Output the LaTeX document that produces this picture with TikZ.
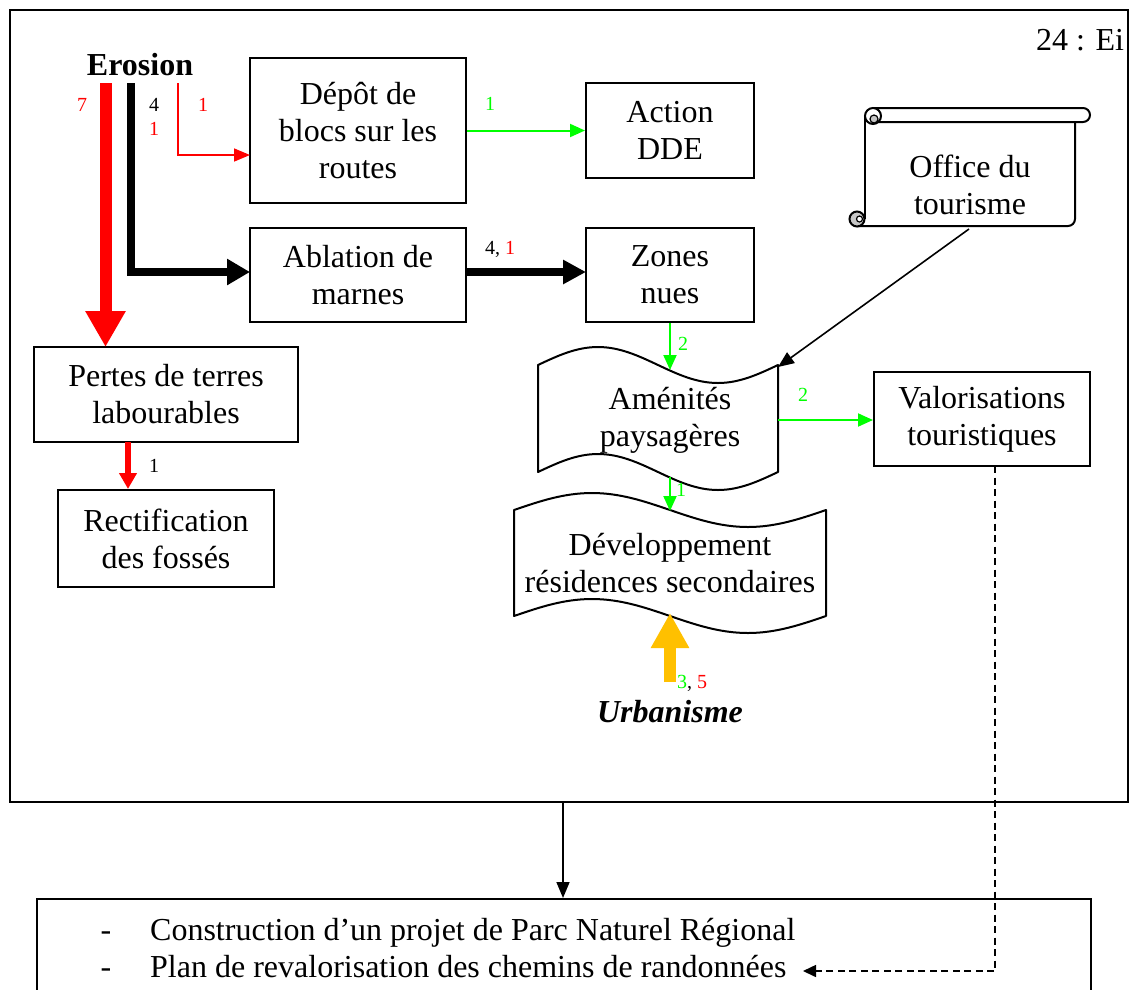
\documentclass[tikz,border=0pt]{standalone}
\usepackage{fontspec}
\setmainfont{Liberation Serif}
\usetikzlibrary{arrows.meta,calc}
\newcommand\mainsz{\fontsize{32}{37}\selectfont}
\newcommand\labsz{\fontsize{20}{24}\selectfont}
\definecolor{rd}{RGB}{255,0,0}
\definecolor{gr}{RGB}{0,255,0}
\definecolor{yl}{RGB}{255,192,0}
\begin{document}
\begin{tikzpicture}[x=1pt,y=-1pt,
  box/.style={draw,line width=2pt,inner sep=0pt,align=center,font=\mainsz},
  txt/.style={inner sep=0pt,align=center,font=\mainsz},
  lab/.style={inner sep=0pt,font=\labsz},
  waveline/.style={draw,line width=2pt,line join=round},
  garr/.style={draw=gr,line width=2pt,-{Triangle[length=15pt,width=13pt]}},
  thinarr/.style={draw,line width=1.6pt,-{Triangle[length=16pt,width=13pt]}},
]
\useasboundingbox (0,0) rectangle (1130,989);
\clip (0,0) rectangle (1130,989);

% outer frame
\draw[line width=2.5pt] (10,10) rectangle (1128,802);
\node[inner sep=0pt,font=\mainsz,anchor=base] (tag) at (1080,50) {24 : Ei};

% nodes
\node[inner sep=0pt,font=\mainsz\bfseries,anchor=base] (erosion) at (140,75) {Erosion};
\node[box,minimum width=216,minimum height=145] (depot) at (358,130.5) {Dépôt de\\blocs sur les\\routes};
\node[box,minimum width=168,minimum height=95] (dde) at (670,130.5) {Action\\DDE};
\node[box,minimum width=216,minimum height=94] (ablation) at (358,275) {Ablation de\\marnes};
\node[box,minimum width=168,minimum height=94] (zones) at (670,275) {Zones\\nues};
\node[box,minimum width=264,minimum height=95] (pertes) at (166,394.5) {Pertes de terres\\labourables};
\node[box,minimum width=216,minimum height=97] (rectif) at (166,538.5) {Rectification\\des fossés};
\node[box,minimum width=216,minimum height=94] (valor) at (982,419) {Valorisations\\touristiques};

% scroll: Office du tourisme
\draw[line width=2pt] (865,116) -- (865,219);
\draw[line width=2pt,rounded corners=7] (857,226) -- (1075,226) -- (1075,122);
\draw[line width=2pt,rounded corners=7] (873,108) -- (1090,108) -- (1090,122) -- (873,122);
\draw[line width=2pt,fill=white] (873,116) circle (8);
\draw[line width=1.2pt,fill=gray!45] (874,119) circle (4);
\draw[line width=2pt,fill=gray!45] (857,219) circle (7.5);
\draw[line width=1.2pt,fill=white] (859.5,219) circle (3);
\node[txt] (office) at (970,185) {Office du\\tourisme};

% wave: Amenites
\draw[waveline] (538,365) sin (598,347) cos (658,365) sin (718,383) cos (778,365)
  -- (778,472) sin (718,490) cos (658,472) sin (598,454) cos (538,472) -- cycle;
\node[txt] (amen) at (670,420) {Aménités\\paysagères};
% wave: Developpement
\draw[waveline] (514,510) sin (592,493) cos (670,510) sin (748,527) cos (826,510)
  -- (826,616) sin (748,633) cos (670,616) sin (592,599) cos (514,616) -- cycle;
\node[txt] (devel) at (670,563) {Développement\\résidences secondaires};

\node[inner sep=0pt,font=\mainsz\bfseries\itshape,anchor=base] (urba) at (670,722) {Urbanisme};

% bottom box
\node[draw,line width=2pt,minimum width=1054,minimum height=120,anchor=north west,inner sep=0pt] (plan) at (36,898) {};
\node[inner sep=0pt,font=\mainsz,anchor=base] (d1) at (106,940) {-};
\node[inner sep=0pt,font=\mainsz,anchor=base] (d2) at (106,977) {-};
\node[inner sep=0pt,font=\mainsz,anchor=base west] (l1) at (150,940) {Construction d’un projet de Parc Naturel Régional};
\node[inner sep=0pt,font=\mainsz,anchor=base west] (l2) at (150,977) {Plan de revalorisation des chemins de randonnées};

% coordinates
\coordinate (eR) at (105.5,83);
\coordinate (eB) at (131,83);
\coordinate (eT) at (178,83);
\coordinate (pertesTop) at (105.5,347);
\coordinate (depIn) at (250,155);
\coordinate (ablIn) at (250,272);
\coordinate (zonIn) at (586,272);
\coordinate (ablOut) at (466,272);
\coordinate (amTop) at (670,370);
\coordinate (amBot) at (670,477);
\coordinate (amRight) at (778,420);
\coordinate (amCorner) at (778,367);
\coordinate (devTop) at (670,511);
\coordinate (devBot) at (670,613);
\coordinate (urbTop) at (670,682);
\coordinate (offOut) at (969,229);
\coordinate (frameBot) at (563,802);
\coordinate (valOut) at (995,466);
\coordinate (planIn) at (803,971);
\coordinate (pertOut) at (128,442);

% connectors
\draw[draw=rd,line width=12pt,-{Triangle[length=36pt,width=38pt]}] (eR) -- (pertesTop);
\draw[line width=8pt,line join=miter,-{Triangle[length=23pt,width=25pt]}] (eB) |- (ablIn);
\draw[draw=rd,line width=1.6pt,-{Triangle[length=16pt,width=13pt]}] (eT) |- (depIn);
\draw[garr] (depot.east) -- (dde.west);
\draw[line width=8pt,-{Triangle[length=23pt,width=23pt]}] (ablOut) -- (zonIn);
\draw[garr] (zones.south) -- (amTop);
\draw[garr] (amBot) -- (devTop);
\draw[garr] (amRight) -- (amRight -| valor.west);
\draw[thinarr] (offOut) -- (amCorner);
\draw[draw=rd,line width=6pt,-{Triangle[length=16pt,width=17pt]}] (pertOut) -- (rectif.north -| pertOut);
\draw[draw=yl,line width=12pt,-{Triangle[length=35pt,width=36pt]}] (urbTop) -- (devBot);
\draw[thinarr] (frameBot) -- (plan.north -| frameBot);
\draw[line width=1.6pt,dash pattern=on 7pt off 4.5pt,-{Triangle[length=13pt,width=12pt]}] (valOut) |- (planIn);

% labels
\node[lab,text=rd] (n7) at (82,105) {7};
\node[lab] (n4) at (154,105) {4};
\node[lab,text=rd] (n1a) at (154,129) {1};
\node[lab,text=rd] (n1b) at (203,105) {1};
\node[lab,text=gr] (n1c) at (490,104) {1};
\node[lab] (n41) at (500,249) {4, \textcolor{rd}{1}};
\node[lab,text=gr] (n2a) at (683,344) {2};
\node[lab,text=gr] (n2b) at (803,395) {2};
\node[lab,text=gr] (n1d) at (681,490) {1};
\node[lab] (n1e) at (154,466) {1};
\node[lab] (n35) at (692,683) {\textcolor{gr}{3}, \textcolor{rd}{5}};
\end{tikzpicture}
\end{document}
